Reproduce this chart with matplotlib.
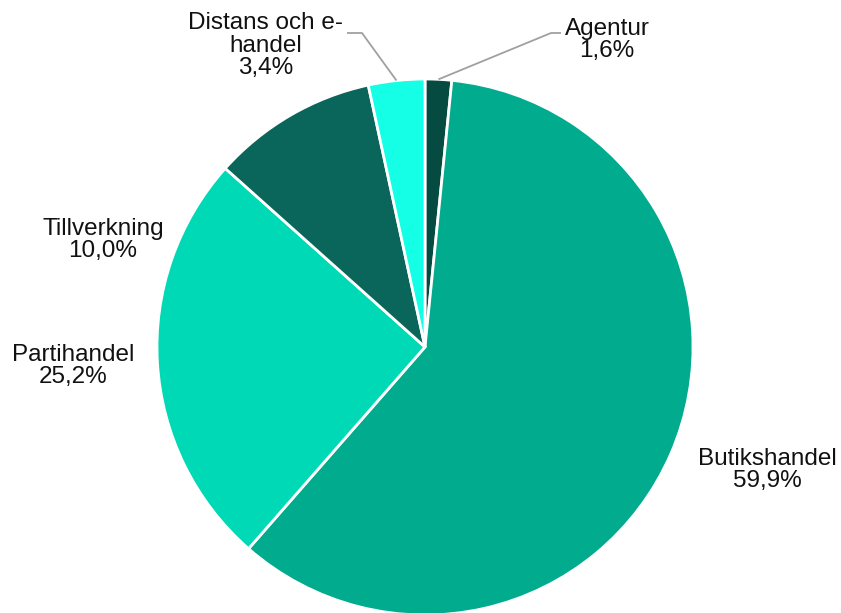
import numpy as np
import matplotlib
matplotlib.use("Agg")
import matplotlib.pyplot as plt

categories = ["Agentur", "Butikshandel", "Partihandel", "Tillverkning", "Distans och e-\nhandel"]
values = [1.6, 59.9, 25.2, 10.0, 3.4]
pct_labels = ["1,6%", "59,9%", "25,2%", "10,0%", "3,4%"]
colors = ["#064b41", "#00ab8e", "#00d9b6", "#0a665a", "#15ffe6"]

W, H = 841, 613
fig = plt.figure(figsize=(W / 100, H / 100), dpi=100)
ax = fig.add_axes([0, 0, 1, 1])

cx, cy, r = 425, H - 347, 268
wedges, _ = ax.pie(values, colors=colors, startangle=90, counterclock=False,
                   center=(cx, cy), radius=r, frame=True,
                   wedgeprops=dict(edgecolor="white", linewidth=2))
ax.set_xlim(0, W)
ax.set_ylim(0, H)
ax.set_aspect("equal")
ax.axis("off")

font = dict(family="Liberation Sans", fontsize=17.5, color="#111111",
            ha="center", va="baseline", linespacing=1.02)

# label positions (x, last-line baseline y in pixel space from top)
label_pos = [(607, 57), (767, 487), (73, 383), (103, 257), (266, 74)]
for cat, pct, (x, y) in zip(categories, pct_labels, label_pos):
    ax.text(x, H - y, f"{cat}\n{pct}", **font)

# leader lines for the small slices
elbows = {0: [(551, 33), (561, 33)], 4: [(362, 33), (347, 33)]}
for i, pts in elbows.items():
    w = wedges[i]
    ang = np.deg2rad((w.theta1 + w.theta2) / 2)
    sx, sy = cx + r * np.cos(ang), cy + r * np.sin(ang)
    xs = [sx] + [p[0] for p in pts]
    ys = [sy] + [H - p[1] for p in pts]
    ax.plot(xs, ys, color="#a0a0a0", lw=1.3, solid_capstyle="butt")

fig.savefig("out.png", dpi=100)
